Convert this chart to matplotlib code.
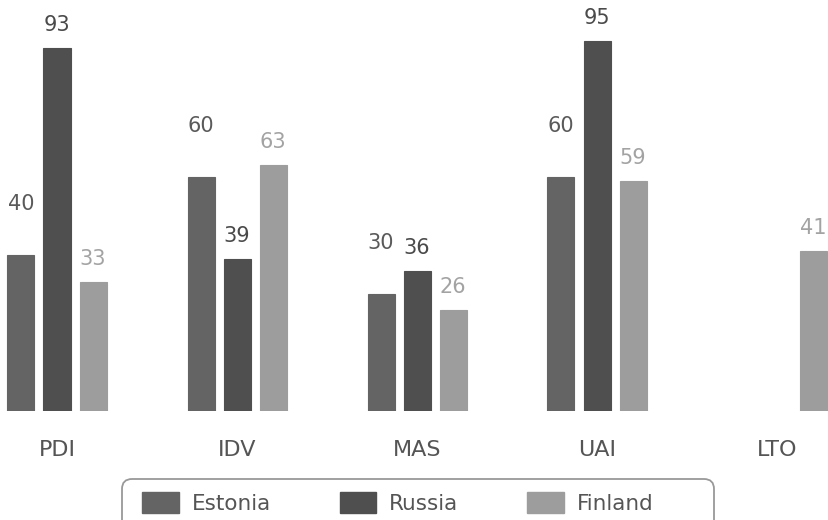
import matplotlib.pyplot as plt
import numpy as np
from matplotlib.patches import Patch, FancyBboxPatch
from matplotlib.transforms import IdentityTransform

# 数据
categories = ['PDI', 'IDV', 'MAS', 'UAI', 'LTO']
estonia = [40, 60, 30, 60, None]
russia = [93, 39, 36, 95, None]
finland = [33, 63, 26, 59, 41]

series = [('Estonia', estonia, '#646464', '#5a5a5a', 10.5),
          ('Russia', russia, '#4f4f4f', '#4a4a4a', 3.3),
          ('Finland', finland, '#9d9d9d', '#a3a3a3', 3.3)]

plt.rcParams['font.family'] = ['DejaVu Sans']

fig = plt.figure(figsize=(8.29, 5.2), dpi=100)
ax = fig.add_axes([0, 109 / 520, 1, 411 / 520])

x = np.arange(len(categories))
width = 0.15
offsets = [-0.2, 0.0, 0.2]

for (name, vals, color, tcolor, gap), off in zip(series, offsets):
    for xi, v in zip(x, vals):
        if v is None:
            continue
        ax.bar(xi + off, v, width, color=color, edgecolor=color, linewidth=0.8)
        ax.text(xi + off, v + gap, str(v), ha='center', va='bottom',
                fontsize=15, color=tcolor)

ax.set_xlim(-57 / 180, (829 - 57) / 180)
ax.set_ylim(0, 411 / 3.9)
ax.set_xticks(x)
ax.set_xticklabels(categories, fontsize=16, color='#555555')
ax.tick_params(axis='x', length=0, pad=21)
ax.set_yticks([])
for s in ax.spines.values():
    s.set_visible(False)

# 图例（边框单独画）
handles = [Patch(facecolor=c, edgecolor=c, label=n) for n, _, c, _, _ in series]
leg = fig.legend(handles=handles, loc='center left', ncol=3,
                 bbox_to_anchor=(142 / 829, 1 - 503 / 520),
                 fontsize=15.5, frameon=False, borderpad=0, borderaxespad=0,
                 handlelength=1.7, handleheight=1.1,
                 handletextpad=0.6, columnspacing=3.2,
                 labelcolor='#555555')

box = FancyBboxPatch((122, -20), 592, 61,
                     boxstyle='round,pad=0,rounding_size=10',
                     transform=IdentityTransform(), facecolor='none',
                     edgecolor='#999999', linewidth=1.3)
fig.add_artist(box)

fig.savefig('out.png', dpi=100)
